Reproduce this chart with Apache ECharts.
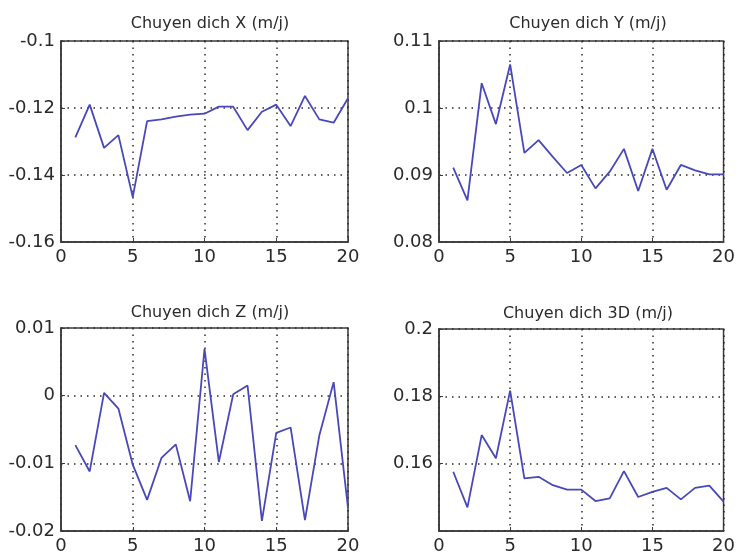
<!DOCTYPE html>
<html>
    <head>
        <meta charset="utf-8">
        <title>Chuyen dich</title>
        <script src="https://cdn.jsdelivr.net/npm/echarts@6/dist/echarts.min.js"></script>
        <style>
            html, body { margin: 0; padding: 0; background: #fff; }
            #main { width: 738px; height: 559px; }
        </style>
    </head>
    <body>
        <div id="main"></div>
        <script type="text/javascript">
            // epochs 1..20
            var epochs = [1, 2, 3, 4, 5, 6, 7, 8, 9, 10, 11, 12, 13, 14, 15, 16, 17, 18, 19, 20];
            var xTicks = [0, 5, 10, 15, 20];

            var titles = ['Chuyen dich X (m/j)', 'Chuyen dich Y (m/j)', 'Chuyen dich Z (m/j)', 'Chuyen dich 3D (m/j)'];

            var dX = [-0.1288, -0.1190, -0.1319, -0.1281, -0.1466, -0.1239, -0.1234, -0.1226, -0.1220, -0.1217,
                      -0.1196, -0.1196, -0.1266, -0.1211, -0.1190, -0.1254, -0.1164, -0.1234, -0.1244, -0.1171];
            var dY = [0.0911, 0.0862, 0.1037, 0.0976, 0.1065, 0.0933, 0.0952, 0.0927, 0.0903, 0.0915,
                      0.0880, 0.0905, 0.0939, 0.0876, 0.0939, 0.0878, 0.0915, 0.0907, 0.0901, 0.0901];
            var dZ = [-0.0073, -0.0112, 0.0004, -0.0019, -0.0102, -0.0154, -0.0092, -0.0072, -0.0156, 0.0069,
                      -0.0098, 0.0002, 0.0015, -0.0185, -0.0055, -0.0047, -0.0184, -0.0059, 0.0020, -0.0166];
            var d3D = [0.1576, 0.1470, 0.1685, 0.1616, 0.1817, 0.1556, 0.1561, 0.1536, 0.1523, 0.1523,
                       0.1489, 0.1497, 0.1578, 0.1501, 0.1516, 0.1528, 0.1494, 0.1528, 0.1535, 0.1487];

            // y ranges: [min, max, step]
            var yRanges = [[-0.16, -0.1, 0.02], [0.08, 0.11, 0.01], [-0.02, 0.01, 0.01], [0.14, 0.2, 0.02]];
            var hiddenLabels = [[], [], [], [0.14]];

            var grids = [
                {left: 61, right: 390, top: 41, bottom: 317},
                {left: 439, right: 11, top: 41, bottom: 317},
                {left: 61, right: 390, top: 328, bottom: 28},
                {left: 439, right: 11, top: 329, bottom: 28}
            ];
            var titlePos = [[205, 11], [583, 11], [205, 300], [583, 301]];

            var allData = [dX, dY, dZ, d3D];
            var fontFam = 'DejaVu Sans';
            var frameColor = '#3a3a3a';
            var dotGrid = {color: '#2a2a2a', type: [1.5, 5], width: 1.5};

            function pairs(ys) {
                var out = [];
                for (var i = 0; i < epochs.length; i++) {
                    out.push([epochs[i], ys[i]]);
                }
                return out;
            }

            var option = {
                backgroundColor: '#fff',
                animation: false,
                title: [], grid: [], xAxis: [], yAxis: [], series: []
            };

            for (var k = 0; k < 4; k++) {
                var g = grids[k];
                option.grid.push({
                    left: g.left, right: g.right, top: g.top, bottom: g.bottom,
                    show: true, borderColor: frameColor, borderWidth: 1.5, backgroundColor: '#fff'
                });
                option.title.push({
                    text: titles[k], left: titlePos[k][0], top: titlePos[k][1], textAlign: 'center',
                    textStyle: {fontFamily: fontFam, fontSize: 16, fontWeight: 'normal', color: '#2a2a2a'}
                });
                option.xAxis.push({
                    type: 'value', gridIndex: k, min: xTicks[0], max: xTicks[xTicks.length - 1], interval: 5,
                    axisLine: {show: true, onZero: false, lineStyle: {color: frameColor, width: 1.5}},
                    axisTick: {show: true, inside: true, length: 4, lineStyle: {color: frameColor}},
                    axisLabel: {margin: 6, fontFamily: fontFam, fontSize: 18, color: '#2a2a2a'},
                    splitLine: {show: true, lineStyle: dotGrid}
                });
                (function (hide) {
                    option.yAxis.push({
                        type: 'value', gridIndex: k, min: yRanges[k][0], max: yRanges[k][1], interval: yRanges[k][2],
                        axisLine: {show: true, onZero: false, lineStyle: {color: frameColor, width: 1.5}},
                        axisTick: {show: true, inside: true, length: 4, lineStyle: {color: frameColor}},
                        axisLabel: {
                            margin: 6, fontFamily: fontFam, fontSize: 18, color: '#2a2a2a',
                            formatter: function (v) {
                                for (var i = 0; i < hide.length; i++) {
                                    if (Math.abs(v - hide[i]) < 1e-9) return '';
                                }
                                return String(+v.toFixed(4));
                            }
                        },
                        splitLine: {show: true, lineStyle: dotGrid}
                    });
                })(hiddenLabels[k]);
                option.series.push({
                    type: 'line', xAxisIndex: k, yAxisIndex: k,
                    data: pairs(allData[k]),
                    showSymbol: false, symbol: 'none',
                    lineStyle: {color: '#4848bb', width: 1.8}
                });
            }

            var myChart = echarts.init(document.getElementById('main'));
            myChart.setOption(option);
        </script>
    </body>
</html>
